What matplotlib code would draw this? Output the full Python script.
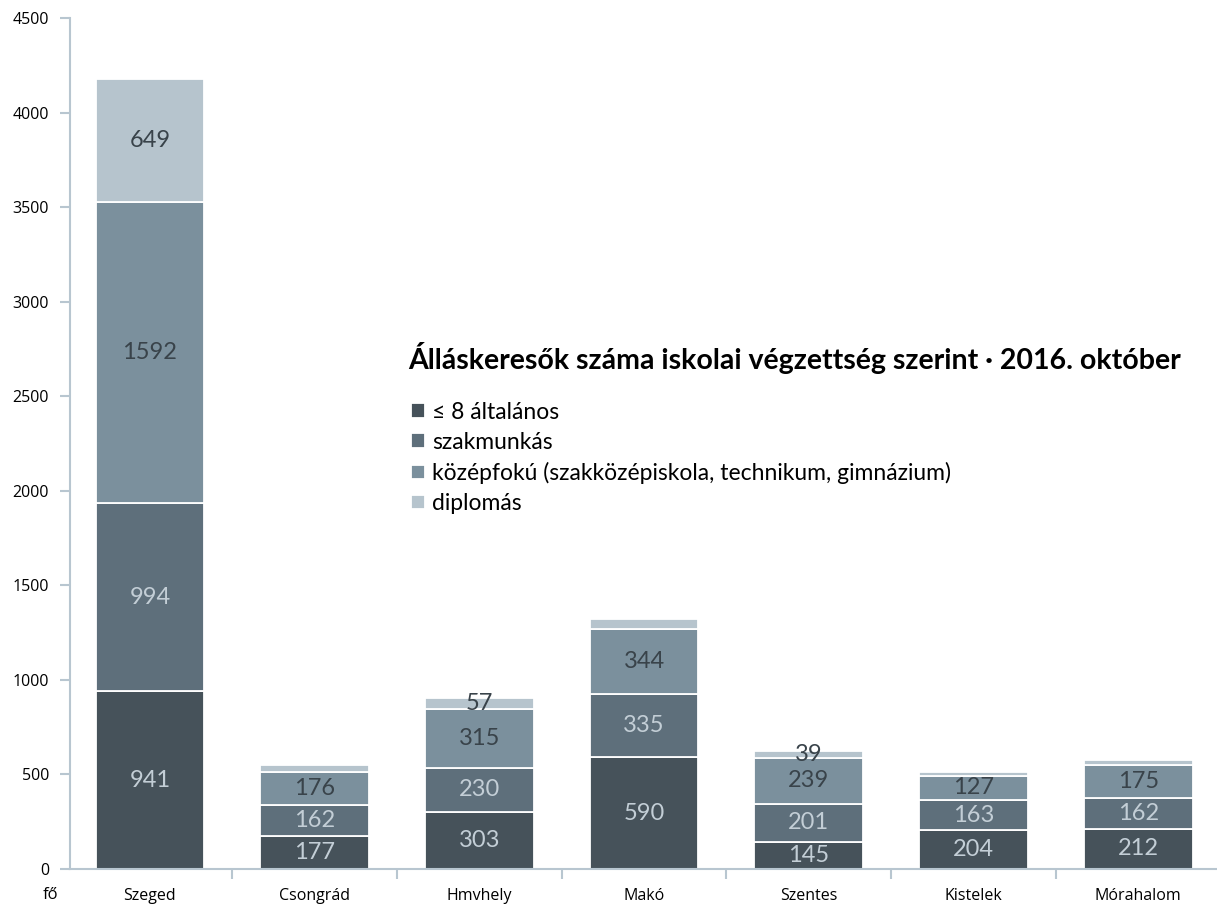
import numpy as np
import matplotlib.pyplot as plt
from matplotlib.ticker import MultipleLocator, FixedLocator

# data
places = ['Szeged', 'Csongrád', 'Hmvhely', 'Makó', 'Szentes', 'Kistelek', 'Mórahalom']
alt8 = [941, 177, 303, 590, 145, 204, 212]
szakm = [994, 162, 230, 335, 201, 163, 162]
kozep = [1592, 176, 315, 344, 239, 127, 175]
diplo = [649, 35, 57, 53, 39, 20, 28]
# which diplomás values carry a label in the original
diplo_shown = [True, False, True, False, True, False, False]

series_names = ['≤ 8 általános', 'szakmunkás',
                'középfokú (szakközépiskola, technikum, gimnázium)', 'diplomás']
colors = ['#46525a', '#5e6f7b', '#7b909d', '#b6c4cd']
text_colors = ['#c3ced6', '#c3ced6', '#39434a', '#39434a']
title = 'Álláskeresők száma iskolai végzettség szerint · 2016. október'

fig = plt.figure(figsize=(12.17, 9.07), dpi=100)
ax = fig.add_axes([0.0575, 0.0419, 0.9415, 0.9381])

x = np.arange(len(places))
bottom = np.zeros(len(places))
containers = []
for i, vals in enumerate([alt8, szakm, kozep, diplo]):
    bc = ax.bar(x, vals, 0.66, bottom=bottom, color=colors[i],
                edgecolor='white', linewidth=1.3, label=series_names[i])
    containers.append(bc)
    if i == 3:
        labels = [str(v) if s else '' for v, s in zip(vals, diplo_shown)]
    else:
        labels = [str(v) for v in vals]
    ax.bar_label(bc, labels=labels, label_type='center', color=text_colors[i],
                 fontsize=17, family='Lato')
    bottom += np.array(vals)

ax.set_xlim(-0.485, 6.47)
ax.set_ylim(0, 4500)
ax.yaxis.set_major_locator(MultipleLocator(500))

spine_c = '#b8c6d0'
for s in ['top', 'right']:
    ax.spines[s].set_visible(False)
ax.spines['left'].set_color(spine_c)
ax.spines['bottom'].set_color(spine_c)
ax.spines['left'].set_linewidth(1.5)
ax.spines['bottom'].set_linewidth(1.5)

ax.set_xticks(x)
ax.set_xticklabels(places, fontsize=11.5, family='Open Sans')
ax.tick_params(axis='x', length=0, pad=14)
ax.xaxis.set_minor_locator(FixedLocator(x[:-1] + 0.5))
ax.tick_params(axis='x', which='minor', length=7, width=1.5, color=spine_c)
ax.tick_params(axis='y', length=7, width=1.5, color=spine_c, labelsize=11.5, pad=8)
for t in ax.get_yticklabels():
    t.set_family('Open Sans')

fig.text(0.035, 1 - 895 / 907, 'fő', fontsize=12, family='Open Sans', va='center')

fig.text(408 / 1217, 1 - 358 / 907, title, family='Lato', weight='bold',
         fontsize=20.5, va='center', ha='left')
leg = ax.legend(handles=containers, loc='upper left', bbox_to_anchor=(0.321, 0.580),
                bbox_transform=fig.transFigure, frameon=False,
                prop={'family': 'Lato', 'size': 16.5},
                handlelength=0.6, handleheight=0.6, handletextpad=0.3,
                labelspacing=0.40)

fig.savefig('out.png', dpi=100)
